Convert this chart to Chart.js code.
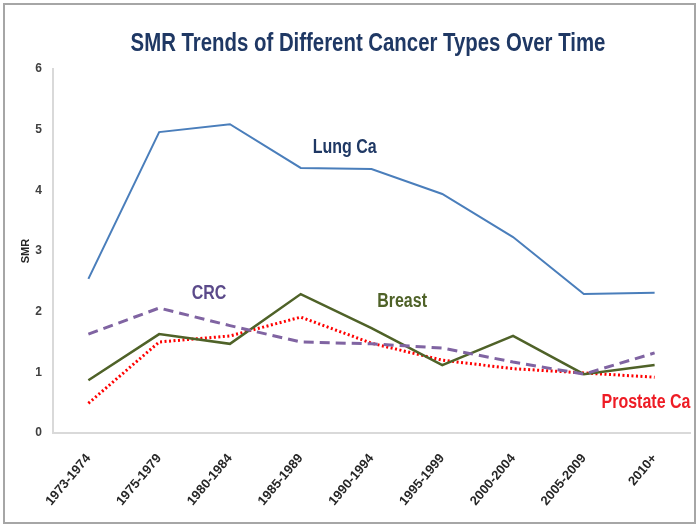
<!DOCTYPE html>
<html>
<head>
<meta charset="utf-8">
<script src="https://cdn.jsdelivr.net/npm/chart.js@4.4.1/dist/chart.umd.min.js"></script>
<style>
  html, body { margin: 0; padding: 0; background: #fff; }
  #wrap { width: 700px; height: 529px; }
</style>
</head>
<body>
<div id="wrap"><canvas id="smrChart" width="700" height="529"></canvas></div>
<script>
// periods on the x axis
let periods = ['1973-1974', '1975-1979', '1980-1984', '1985-1989', '1990-1994',
               '1995-1999', '2000-2004', '2005-2009', '2010+'];

// SMR values
let lungCa     = [2.54, 4.96, 5.09, 4.37, 4.35, 3.94, 3.23, 2.29, 2.31];
let crc        = [1.63, 2.06, 1.77, 1.50, 1.47, 1.40, 1.17, 0.97, 1.32];
let breast     = [0.87, 1.63, 1.47, 2.29, 1.73, 1.12, 1.60, 0.97, 1.12];
let prostateCa = [0.49, 1.50, 1.60, 1.91, 1.48, 1.20, 1.06, 0.99, 0.92];

let yTicks = [0, 1, 2, 3, 4, 5, 6];

// text labels that sit inside the plot (x = category index, y = SMR)
let seriesLabels = [
    { text: 'Lung Ca',     x: 3.17, y: 4.70, color: '#1f3864' },
    { text: 'CRC',         x: 1.46, y: 2.30, color: '#5b4a8a' },
    { text: 'Breast',      x: 4.08, y: 2.17, color: '#4f6228' },
    { text: 'Prostate Ca', x: 7.25, y: 0.50, color: '#ee1c25' }
];

let chartTitle = 'SMR Trends of Different Cancer Types Over Time';

const SANS = "'Liberation Sans', Arial, sans-serif";

// no narrow font installed, so squeeze the text sideways instead
let drawNarrow = (ctx, text, x, y, squeeze) => {
    ctx.save();
    ctx.translate(x, y);
    ctx.scale(squeeze, 1);
    ctx.fillText(text, 0, 0);
    ctx.restore();
};

// grey frame around the picture + white background
let framePlugin = {
    id: 'frame',
    beforeDraw: (chart) => {
        let ctx = chart.ctx;
        ctx.save();
        ctx.fillStyle = '#fff';
        ctx.fillRect(0, 0, chart.width, chart.height);
        ctx.strokeStyle = '#a6a6a6';
        ctx.lineWidth = 2;
        ctx.strokeRect(4, 4, chart.width - 9, chart.height - 10);
        ctx.restore();
    }
};

// title drawn by hand so it can sit off-centre like the original
let titlePlugin = {
    id: 'bigTitle',
    afterDraw: (chart) => {
        let ctx = chart.ctx;
        ctx.save();
        ctx.font = 'bold 25px ' + SANS;
        ctx.fillStyle = '#1f3864';
        ctx.textAlign = 'center';
        ctx.textBaseline = 'alphabetic';
        drawNarrow(ctx, chartTitle, 368, 51, 0.815);
        ctx.restore();
    }
};

// series names placed with the chart's own scales
let labelPlugin = {
    id: 'seriesLabels',
    afterDatasetsDraw: (chart) => {
        let ctx = chart.ctx;
        let xs = chart.scales.x, ys = chart.scales.y;
        ctx.save();
        ctx.font = 'bold 20px ' + SANS;
        ctx.textAlign = 'left';
        ctx.textBaseline = 'middle';
        seriesLabels.forEach(l => {
            ctx.fillStyle = l.color;
            drawNarrow(ctx, l.text, xs.getPixelForValue(l.x), ys.getPixelForValue(l.y), 0.8);
        });
        ctx.restore();
    }
};

let makeSet = (label, values, color, width, dash) => ({
    label: label,
    data: values,
    borderColor: color,
    backgroundColor: color,
    borderWidth: width,
    borderDash: dash,
    borderCapStyle: 'butt',
    pointRadius: 0,
    pointHoverRadius: 0,
    tension: 0,
    fill: false
});

let ctx = document.getElementById('smrChart');
let myChart = new Chart(ctx, {
    type: 'line',
    data: {
        labels: periods,
        datasets: [
            makeSet('Lung Ca', lungCa, '#4a7ebb', 2, []),
            makeSet('CRC', crc, '#8064a2', 3, [10, 6]),
            makeSet('Breast', breast, '#4f6228', 2.5, []),
            makeSet('Prostate Ca', prostateCa, '#ff0000', 3, [2, 2.5])
        ]
    },
    options: {
        responsive: false,
        animation: false,
        devicePixelRatio: 1,
        layout: { padding: { left: 10, right: 10, top: 69, bottom: 0 } },
        plugins: {
            legend: { display: false },
            title: { display: false },
            tooltip: { enabled: false }
        },
        scales: {
            x: {
                offset: true,
                grid: { display: false },
                border: { display: true, color: '#d9d9d9', width: 2 },
                ticks: {
                    autoSkip: false,
                    minRotation: 50,
                    maxRotation: 50,
                    padding: 10,
                    color: '#262626',
                    font: { family: SANS, size: 13, weight: 'bold' }
                },
                afterFit: (s) => { s.height = 96; }
            },
            y: {
                min: 0,
                max: 6,
                afterBuildTicks: (s) => { s.ticks = yTicks.map(v => ({ value: v })); },
                grid: { display: false, drawTicks: false },
                border: { display: true, color: '#d9d9d9', width: 2 },
                ticks: {
                    padding: 11,
                    color: '#404040',
                    font: { family: SANS, size: 12, weight: 'bold' }
                },
                title: {
                    display: true,
                    text: 'SMR',
                    color: '#262626',
                    padding: { top: 9, bottom: 0 },
                    font: { family: SANS, size: 11, weight: 'bold' }
                },
                afterFit: (s) => { s.width = 43; }
            }
        }
    },
    plugins: [framePlugin, titlePlugin, labelPlugin]
});
</script>
</body>
</html>
